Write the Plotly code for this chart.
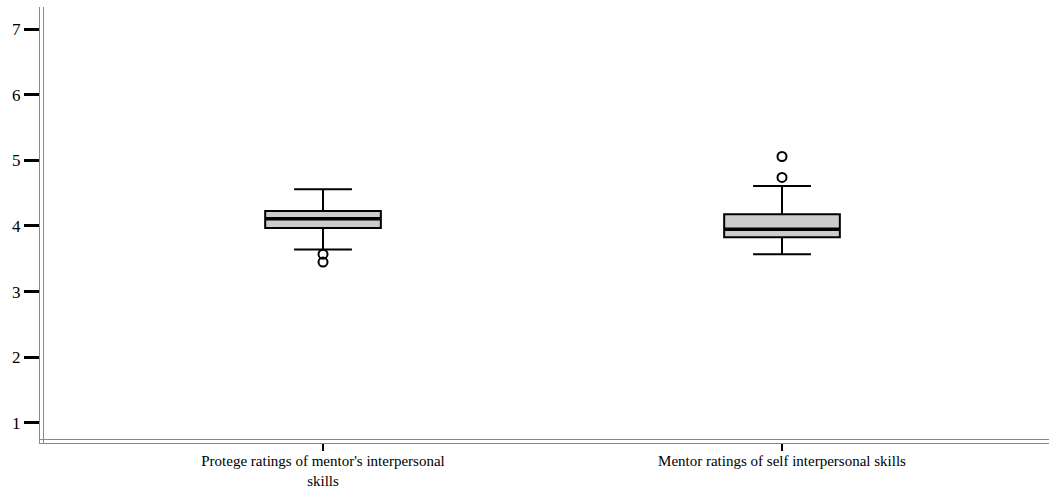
import plotly.graph_objects as go

# Summary statistics of the two rating scales
categories = ["Protege ratings of mentor's interpersonal<br>skills",
              "Mentor ratings of self interpersonal skills"]
lower_whisker = [3.64, 3.57]
q1_vals = [3.97, 3.83]
median_vals = [4.11, 3.95]
q3_vals = [4.23, 4.18]
upper_whisker = [4.56, 4.61]
outliers = [[3.57, 3.45], [4.74, 5.06]]

y_ticks = [1, 2, 3, 4, 5, 6, 7]

positions = list(range(len(categories)))
box_width = 0.252
serif = "Liberation Serif"

fig = go.Figure()

for i, pos in enumerate(positions):
    fig.add_trace(go.Box(
        x=[pos], q1=[q1_vals[i]], median=[median_vals[i]], q3=[q3_vals[i]],
        lowerfence=[lower_whisker[i]], upperfence=[upper_whisker[i]],
        width=box_width, whiskerwidth=0.5,
        fillcolor="#cccccc", line=dict(color="black", width=2),
        boxpoints=False, showlegend=False, hoverinfo="skip",
    ))
    # heavier median bar
    half = box_width / 2
    fig.add_trace(go.Scatter(
        x=[pos - half, pos + half], y=[median_vals[i]] * 2,
        mode="lines", line=dict(color="black", width=3.5),
        showlegend=False, hoverinfo="skip",
    ))
    # outlying cases
    fig.add_trace(go.Scatter(
        x=[pos] * len(outliers[i]), y=outliers[i], mode="markers",
        marker=dict(symbol="circle-open", size=9, color="black",
                    line=dict(width=2, color="black")),
        showlegend=False, hoverinfo="skip",
    ))

# inner line of the double axis frame
fig.add_shape(type="line", xref="paper", yref="paper", xsizemode="pixel",
              xanchor=0, x0=3.5, x1=3.5, y0=0, y1=1,
              line=dict(color="#888888", width=1))
fig.add_shape(type="line", xref="paper", yref="paper", ysizemode="pixel",
              yanchor=0, y0=3.5, y1=3.5, x0=0, x1=1,
              line=dict(color="#888888", width=1))

fig.update_layout(
    width=1049, height=487,
    margin=dict(l=40, r=0, t=7, b=44),
    paper_bgcolor="white", plot_bgcolor="white",
    font=dict(family=serif, color="black"),
    xaxis=dict(
        range=[-0.6166, 1.5817], tickvals=positions, ticktext=categories,
        showgrid=False, zeroline=False, automargin=False,
        showline=True, linecolor="#888888", linewidth=1,
        ticks="outside", ticklen=7, tickwidth=1.5, tickcolor="black",
        ticklabelstandoff=-3,
        tickfont=dict(size=15, family=serif),
    ),
    yaxis=dict(
        range=[0.690, 7.340], tickvals=y_ticks,
        showgrid=False, zeroline=False, automargin=False,
        showline=True, linecolor="#888888", linewidth=1,
        ticks="outside", ticklen=15, tickwidth=2.5, tickcolor="black",
        tickfont=dict(size=17, family=serif),
    ),
)

fig.write_html("out.html")
